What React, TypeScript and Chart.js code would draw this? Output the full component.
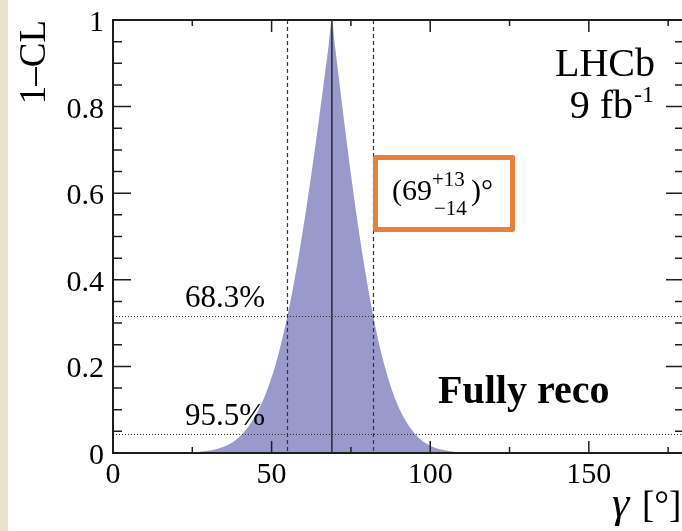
import React, { useEffect, useRef } from "react";
import { Chart, registerables } from "chart.js";

Chart.register(...registerables);

// ---- data ----
const gammaDeg = [0, 10, 20, 25, 30, 33, 36, 39, 42, 45, 48, 51, 53, 55, 57, 59, 61, 63, 65, 67, 68, 69, 70, 71, 73, 75, 77, 79, 82, 85, 88, 91, 94, 97, 100, 105, 110, 115, 120, 140, 160, 180];
const oneMinusCL = [0, 0, 0.0002, 0.0017, 0.0053, 0.010, 0.018, 0.032, 0.054, 0.087, 0.134, 0.198, 0.253, 0.317, 0.391, 0.475, 0.568, 0.668, 0.775, 0.886, 0.943, 1.0, 0.939, 0.878, 0.758, 0.644, 0.538, 0.442, 0.317, 0.218, 0.144, 0.091, 0.055, 0.031, 0.017, 0.0056, 0.0016, 0.0004, 0, 0, 0, 0];

const xMajorTicks = [0, 50, 100, 150];
const xMajorLabels = ["0", "50", "100", "150"];
const xMinorTicks = [25, 75, 125, 175];
const yMajorTicks = [0, 0.2, 0.4, 0.6, 0.8, 1];
const yMajorLabels = ["0", "0.2", "0.4", "0.6", "0.8", "1"];
const yMinorTicks = [0.05, 0.1, 0.15, 0.25, 0.3, 0.35, 0.45, 0.5, 0.55, 0.65, 0.7, 0.75, 0.85, 0.9, 0.95];

const clLevels = [0.317, 0.045];
const clLabels = ["68.3%", "95.5%"];
const bestFit = 69;
const intervalBounds = [55, 82];
const centralText = "69";
const errUp = "+13";
const errDown = "\u221214";

const SERIF = "'Liberation Serif', 'Times New Roman', serif";
const FILL = "#9999cc";
const INK = "#1e1e1e";
const ORANGE = "#e8803c";

const overlayPlugin = {
  id: "rootStyle",
  afterDatasetsDraw(chart: any) {
    const ctx: CanvasRenderingContext2D = chart.ctx;
    const xs = chart.scales.x;
    const ys = chart.scales.y;
    const { left, right, top, bottom } = chart.chartArea;
    ctx.save();

    // CL horizontal dotted lines
    ctx.strokeStyle = "#333";
    ctx.lineWidth = 1;
    ctx.setLineDash([1, 2]);
    clLevels.forEach((lv) => {
      const y = Math.round(ys.getPixelForValue(lv)) + 0.5;
      ctx.beginPath();
      ctx.moveTo(left, y);
      ctx.lineTo(right, y);
      ctx.stroke();
    });

    // interval dashed verticals
    ctx.setLineDash([4, 3]);
    ctx.lineWidth = 1.2;
    intervalBounds.forEach((v) => {
      const x = Math.round(xs.getPixelForValue(v)) + 0.5;
      ctx.beginPath();
      ctx.moveTo(x, top);
      ctx.lineTo(x, bottom);
      ctx.stroke();
    });

    // best fit solid line
    ctx.setLineDash([]);
    ctx.lineWidth = 1.5;
    ctx.strokeStyle = "#2a2a3a";
    {
      const x = xs.getPixelForValue(bestFit);
      ctx.beginPath();
      ctx.moveTo(x, top);
      ctx.lineTo(x, bottom);
      ctx.stroke();
    }

    // frame
    ctx.strokeStyle = INK;
    ctx.lineWidth = 2;
    ctx.strokeRect(left, top, right - left, bottom - top);

    // ticks
    ctx.lineWidth = 1.5;
    const tickX = (v: number, len: number) => {
      const x = xs.getPixelForValue(v);
      ctx.beginPath();
      ctx.moveTo(x, bottom);
      ctx.lineTo(x, bottom - len);
      ctx.moveTo(x, top);
      ctx.lineTo(x, top + len);
      ctx.stroke();
    };
    const tickY = (v: number, len: number) => {
      const y = ys.getPixelForValue(v);
      ctx.beginPath();
      ctx.moveTo(left, y);
      ctx.lineTo(left + len, y);
      ctx.moveTo(right, y);
      ctx.lineTo(right - len, y);
      ctx.stroke();
    };
    xMajorTicks.forEach((v) => tickX(v, 12));
    xMinorTicks.forEach((v) => tickX(v, 6));
    yMajorTicks.forEach((v) => tickY(v, 18));
    yMinorTicks.forEach((v) => tickY(v, 9));

    // tick labels
    ctx.fillStyle = "#000";
    ctx.font = `30px ${SERIF}`;
    ctx.textBaseline = "alphabetic";
    ctx.textAlign = "center";
    xMajorTicks.forEach((v, i) => {
      ctx.fillText(xMajorLabels[i], xs.getPixelForValue(v), 483);
    });
    ctx.textAlign = "right";
    yMajorTicks.forEach((v, i) => {
      ctx.fillText(yMajorLabels[i], 104, ys.getPixelForValue(v) + 11);
    });

    // y title
    ctx.save();
    ctx.translate(45, top);
    ctx.rotate(-Math.PI / 2);
    ctx.textAlign = "right";
    ctx.font = `37px ${SERIF}`;
    ctx.fillText("1\u2013CL", 0, 0);
    ctx.restore();

    // x title
    ctx.textAlign = "left";
    ctx.font = `italic 44px ${SERIF}`;
    ctx.fillText("\u03b3", 612, 517);
    ctx.font = `37px ${SERIF}`;
    ctx.fillText("[\u00b0]", 642, 517);

    // CL labels
    ctx.font = `31px ${SERIF}`;
    ctx.fillText(clLabels[0], 185, 307);
    ctx.fillText(clLabels[1], 185, 425);

    // LHCb
    ctx.textAlign = "right";
    ctx.font = `40px ${SERIF}`;
    ctx.fillText("LHCb", 655, 76);
    ctx.fillText("9 fb", 633, 118);
    ctx.textAlign = "left";
    ctx.font = `24px ${SERIF}`;
    ctx.fillText("-1", 634, 102);

    // Fully reco
    ctx.font = `bold 40px ${SERIF}`;
    ctx.fillText("Fully reco", 438, 403);

    // result box
    ctx.strokeStyle = ORANGE;
    ctx.lineWidth = 5;
    ctx.lineJoin = "round";
    ctx.strokeRect(375.5, 157.5, 137, 72);
    ctx.fillStyle = "#000";
    ctx.font = `30px ${SERIF}`;
    ctx.fillText("(" + centralText, 392, 200);
    ctx.font = `21px ${SERIF}`;
    ctx.fillText(errUp, 432, 186);
    ctx.fillText(errDown, 434, 215);
    ctx.font = `30px ${SERIF}`;
    ctx.fillText(")\u00b0", 471, 200);

    ctx.restore();
  },
};

export default function App() {
  const ref = useRef<HTMLCanvasElement | null>(null);
  useEffect(() => {
    if (!ref.current) return;
    const chart = new Chart(ref.current, {
      type: "line",
      data: {
        datasets: [
          {
            data: gammaDeg.map((g, i) => ({ x: g, y: oneMinusCL[i] })),
            fill: "origin",
            backgroundColor: FILL,
            borderWidth: 0,
            borderColor: FILL,
            pointRadius: 0,
            cubicInterpolationMode: "monotone",
          },
        ],
      },
      options: {
        animation: false,
        responsive: false,
        events: [],
        layout: { padding: { left: 113, right: 16, top: 20, bottom: 78 } },
        plugins: { legend: { display: false }, tooltip: { enabled: false } },
        scales: {
          x: { type: "linear", min: 0, max: 180, display: false },
          y: { type: "linear", min: 0, max: 1, display: false },
        },
      },
      plugins: [overlayPlugin],
    } as any);
    return () => chart.destroy();
  }, []);
  return (
    <div
      style={{
        position: "fixed",
        left: 0,
        top: 0,
        width: 682,
        height: 531,
        overflow: "hidden",
        background: "#fff",
      }}
    >
      <canvas ref={ref} width={700} height={531} style={{ position: "absolute", left: 0, top: 0, width: 700, height: 531 }} />
      <div style={{ position: "absolute", left: 0, top: 0, width: 8, height: 531, background: "#e8e1cb" }} />
    </div>
  );
}
